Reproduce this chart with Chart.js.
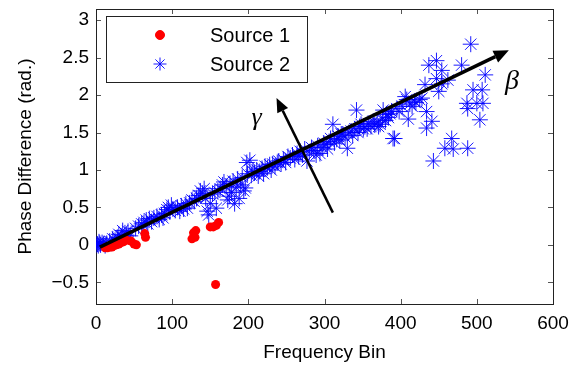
<!DOCTYPE html>
<html>
<head>
<meta charset="utf-8">
<script src="https://cdn.jsdelivr.net/npm/chart.js@4.4.1/dist/chart.umd.min.js"></script>
<style>
  html, body { margin: 0; padding: 0; background: #ffffff; }
  #wrap { width: 571px; height: 371px; position: relative; }
</style>
</head>
<body>
<div id="wrap"><canvas id="c" width="571" height="371"></canvas></div>
<script>
// ---- Data ----
const source1X = [12, 15, 18, 21, 24, 27, 30, 33, 36, 40, 46, 50, 53, 64, 65, 126, 128, 130, 131, 150, 154, 158, 161, 157];
const source1Y = [-0.04, -0.04, -0.03, -0.03, -0.01, 0.0, 0.01, 0.03, 0.04, 0.06, 0.05, 0.01, 0.0, 0.15, 0.10, 0.08, 0.16, 0.10, 0.19, 0.24, 0.24, 0.26, 0.30, -0.53];

const source2X = [0, 2, 3, 5, 6, 8, 10, 12, 4, 14,
  18, 22, 25, 28, 30, 33, 35, 38, 40, 42, 45,
  52, 56, 60, 63, 66, 68, 70, 73, 76, 80, 83, 86, 88, 90, 93, 95, 97, 99, 101,
  104, 107, 110, 112, 115, 118, 120, 123, 126, 129, 132, 135, 137, 140, 142, 144, 146, 148, 150,
  153, 156, 158, 160, 163, 166, 168, 171, 173, 175, 176, 178, 180, 182, 184, 186, 188, 190, 192, 194, 196, 198, 199,
  202, 204, 206, 208, 211, 213, 215, 218, 220, 222, 225, 228, 230, 232, 235, 238, 240, 243, 246, 249,
  252, 255, 258, 261, 264, 266, 268, 271, 274, 277, 280, 283, 286, 289, 291, 294, 297, 299,
  302, 304, 306, 308, 311, 313, 316, 318, 320, 322, 324, 327, 330, 332, 335, 337, 340, 342, 344, 346, 348,
  351, 353, 356, 358, 361, 364, 366, 369, 371, 373, 376, 377, 380, 382, 384, 386, 388, 390, 392, 395, 398,
  402, 406, 408, 410, 412, 415, 418, 420, 425, 428, 432, 434, 434, 437, 441, 443, 447, 447, 450,
  454, 454, 458, 462, 467, 469, 480, 487, 488, 488, 492, 495, 500, 504, 507, 508, 511];
const source2Y = [0.0, 0.01, -0.01, 0.02, 0.0, 0.03, 0.01, -0.01, 0.04, 0.02,
  0.05, 0.08, 0.06, 0.10, 0.14, 0.12, 0.19, 0.16, 0.13, 0.18, 0.12,
  0.22, 0.25, 0.28, 0.30, 0.33, 0.28, 0.35, 0.31, 0.36, 0.38, 0.34, 0.40, 0.36, 0.42, 0.47, 0.50, 0.44, 0.53, 0.48,
  0.46, 0.50, 0.45, 0.52, 0.48, 0.55, 0.49, 0.56, 0.60, 0.58, 0.62, 0.66, 0.72, 0.69, 0.75, 0.62, 0.45, 0.40, 0.55,
  0.68, 0.70, 0.49, 0.72, 0.75, 0.80, 0.84, 0.78, 0.60, 0.65, 0.82, 0.70, 0.85, 0.55, 0.77, 0.88, 0.62, 0.80, 0.90, 0.72, 0.76, 1.10, 0.95,
  1.13, 0.93, 0.98, 0.96, 1.00, 0.92, 0.98, 1.02, 0.95, 1.05, 1.03, 1.07, 1.00, 1.08, 1.05, 1.10, 1.12, 1.08, 1.14, 1.10,
  1.18, 1.16, 1.20, 1.14, 1.22, 1.18, 1.25, 1.20, 1.28, 1.12, 1.24, 1.30, 1.26, 1.20, 1.32, 1.22, 1.30, 1.36,
  1.34, 1.28, 1.38, 1.42, 1.61, 1.36, 1.41, 1.45, 1.40, 1.48, 1.48, 1.44, 1.29, 1.50, 1.52, 1.46, 1.55, 1.80, 1.50, 1.58, 1.61,
  1.55, 1.58, 1.55, 1.62, 1.58, 1.65, 1.60, 1.63, 1.58, 1.61, 1.68, 1.80, 1.66, 1.74, 1.70, 1.75, 1.78, 1.42, 1.42, 1.82, 1.78,
  1.85, 1.98, 1.94, 1.68, 1.88, 1.85, 1.92, 1.90, 1.94, 1.96, 2.14, 1.78, 1.56, 2.40, 1.65, 1.12, 2.46, 2.22, 2.05,
  2.33, 2.15, 1.29, 2.20, 1.42, 1.28, 2.40, 1.89, 1.82, 1.29, 2.68, 2.07, 1.89, 1.67, 2.07, 1.89, 2.27];

const xTicks = [0, 100, 200, 300, 400, 500, 600];
const yTicks = [-0.5, 0, 0.5, 1, 1.5, 2, 2.5, 3];
const seriesLabels = ['Source 1', 'Source 2'];
const xTitle = 'Frequency Bin';
const yTitle = 'Phase Difference (rad.)';

// annotation arrows (data coordinates: from -> to) and their labels
const betaArrow = [[5, -0.03], [542, 2.6]];
const gammaArrow = [[311, 0.43], [237, 1.96]];
const betaLabel = { text: 'β', at: [546, 2.18] };
const gammaLabel = { text: 'γ', at: [211, 1.69] };

// ---- build ----
const toPts = (xs, ys) => xs.map((x, i) => ({ x: x, y: ys[i] }));
const FONT = '"Liberation Sans", Arial, sans-serif';

const boxPlugin = {
  id: 'boxTicks',
  beforeDatasetsDraw(chart) {
    const { ctx, chartArea: a, scales } = chart;
    ctx.save();
    ctx.strokeStyle = '#555';
    ctx.lineWidth = 1;
    const tl = 5;
    ctx.beginPath();
    scales.x.ticks.forEach(t => {
      const px = Math.round(scales.x.getPixelForValue(t.value)) + 0.5;
      ctx.moveTo(px, a.bottom); ctx.lineTo(px, a.bottom - tl);
      ctx.moveTo(px, a.top); ctx.lineTo(px, a.top + tl);
    });
    scales.y.ticks.forEach(t => {
      const py = Math.round(scales.y.getPixelForValue(t.value)) + 0.5;
      ctx.moveTo(a.left, py); ctx.lineTo(a.left + tl, py);
      ctx.moveTo(a.right, py); ctx.lineTo(a.right - tl, py);
    });
    ctx.stroke();
    ctx.strokeStyle = '#222';
    ctx.strokeRect(Math.round(a.left) + 0.5, Math.round(a.top) + 0.5,
      Math.round(a.right - a.left), Math.round(a.bottom - a.top));
    ctx.restore();
  },
  afterDatasetsDraw(chart) {
    const { ctx, scales } = chart;
    const P = (d) => [scales.x.getPixelForValue(d[0]), scales.y.getPixelForValue(d[1])];
    function arrow(from, to, lw, headLen, headW) {
      const [x1, y1] = P(from), [x2, y2] = P(to);
      const ang = Math.atan2(y2 - y1, x2 - x1);
      const bx = x2 - headLen * Math.cos(ang), by = y2 - headLen * Math.sin(ang);
      ctx.save();
      ctx.strokeStyle = '#000'; ctx.fillStyle = '#000';
      ctx.lineWidth = lw; ctx.lineCap = 'butt';
      ctx.beginPath(); ctx.moveTo(x1, y1); ctx.lineTo(bx, by); ctx.stroke();
      ctx.beginPath();
      ctx.moveTo(x2, y2);
      ctx.lineTo(bx + headW / 2 * Math.sin(ang), by - headW / 2 * Math.cos(ang));
      ctx.lineTo(bx - headW / 2 * Math.sin(ang), by + headW / 2 * Math.cos(ang));
      ctx.closePath(); ctx.fill();
      ctx.restore();
    }
    arrow(betaArrow[0], betaArrow[1], 3.5, 15, 13);
    arrow(gammaArrow[0], gammaArrow[1], 2.5, 14, 12);
    ctx.save();
    ctx.fillStyle = '#000';
    ctx.textAlign = 'center'; ctx.textBaseline = 'middle';
    ctx.font = 'italic 28px "Liberation Serif", "DejaVu Serif", serif';
    let p = P(betaLabel.at); ctx.fillText(betaLabel.text, p[0], p[1]);
    ctx.font = 'italic 26px "Liberation Serif", "DejaVu Serif", serif';
    p = P(gammaLabel.at); ctx.fillText(gammaLabel.text, p[0], p[1]);
    ctx.restore();

    // legend box
    const ds = chart.data.datasets;
    const L = 106, T = 16, W = 201, H = 66;
    ctx.save();
    ctx.fillStyle = '#fff';
    ctx.fillRect(L, T, W, H);
    ctx.strokeStyle = '#222'; ctx.lineWidth = 1;
    ctx.strokeRect(L + 0.5, T + 0.5, W, H);
    const rows = [T + 19, T + 48];
    ds.forEach((d, i) => {
      const style = {
        pointStyle: d.pointStyle, rotation: 0, borderWidth: 1,
        radius: i === 0 ? 4.5 : 6.5
      };
      ctx.fillStyle = d.backgroundColor; ctx.strokeStyle = d.borderColor; ctx.lineWidth = 1;
      Chart.helpers.drawPoint(ctx, style, L + 54, rows[i]);
      ctx.fillStyle = '#000';
      ctx.font = '20px ' + FONT;
      ctx.textAlign = 'left'; ctx.textBaseline = 'middle';
      ctx.fillText(d.label, L + 104, rows[i] + 1);
    });
    ctx.restore();
  }
};

new Chart(document.getElementById('c'), {
  type: 'scatter',
  data: {
    datasets: [
      {
        label: seriesLabels[0], data: toPts(source1X, source1Y),
        pointStyle: 'circle', pointRadius: 4.5, pointHoverRadius: 4.5,
        backgroundColor: '#ff0000', borderColor: '#ff0000', borderWidth: 0
      },
      {
        label: seriesLabels[1], data: toPts(source2X, source2Y),
        pointStyle: 'star', pointRadius: 8, pointHoverRadius: 8,
        backgroundColor: 'rgba(0,0,255,0.9)', borderColor: 'rgba(0,0,255,0.9)', borderWidth: 1
      }
    ]
  },
  options: {
    responsive: false, animation: false,
    layout: { padding: { top: 7, right: 18, left: 0, bottom: 0 } },
    plugins: { legend: { display: false }, tooltip: { enabled: false } },
    scales: {
      x: {
        type: 'linear', min: 0, max: 600,
        afterBuildTicks: s => { s.ticks = xTicks.map(v => ({ value: v })); },
        afterFit: s => { s.height = 67; s.paddingLeft = 0; s.paddingRight = 0; },
        grid: { display: false, drawTicks: false }, border: { display: false },
        ticks: { color: '#000', padding: 8, maxRotation: 0, font: { family: FONT, size: 19 } },
        title: { display: true, text: xTitle, color: '#000', padding: { top: 0, bottom: 7 }, font: { family: FONT, size: 19 } }
      },
      y: {
        type: 'linear', min: -0.79, max: 3.15,
        afterBuildTicks: s => { s.ticks = yTicks.map(v => ({ value: v })); },
        afterFit: s => { s.width = 96; s.paddingTop = 0; s.paddingBottom = 0; },
        grid: { display: false, drawTicks: false }, border: { display: false },
        ticks: { color: '#000', padding: 7, font: { family: FONT, size: 19 },
          callback: v => (v < 0 ? '\u2212' + Math.abs(v) : String(v)) },
        title: { display: true, text: yTitle, color: '#000', padding: { top: 14, bottom: 0 }, font: { family: FONT, size: 19 } }
      }
    }
  },
  plugins: [boxPlugin]
});
</script>
</body>
</html>
